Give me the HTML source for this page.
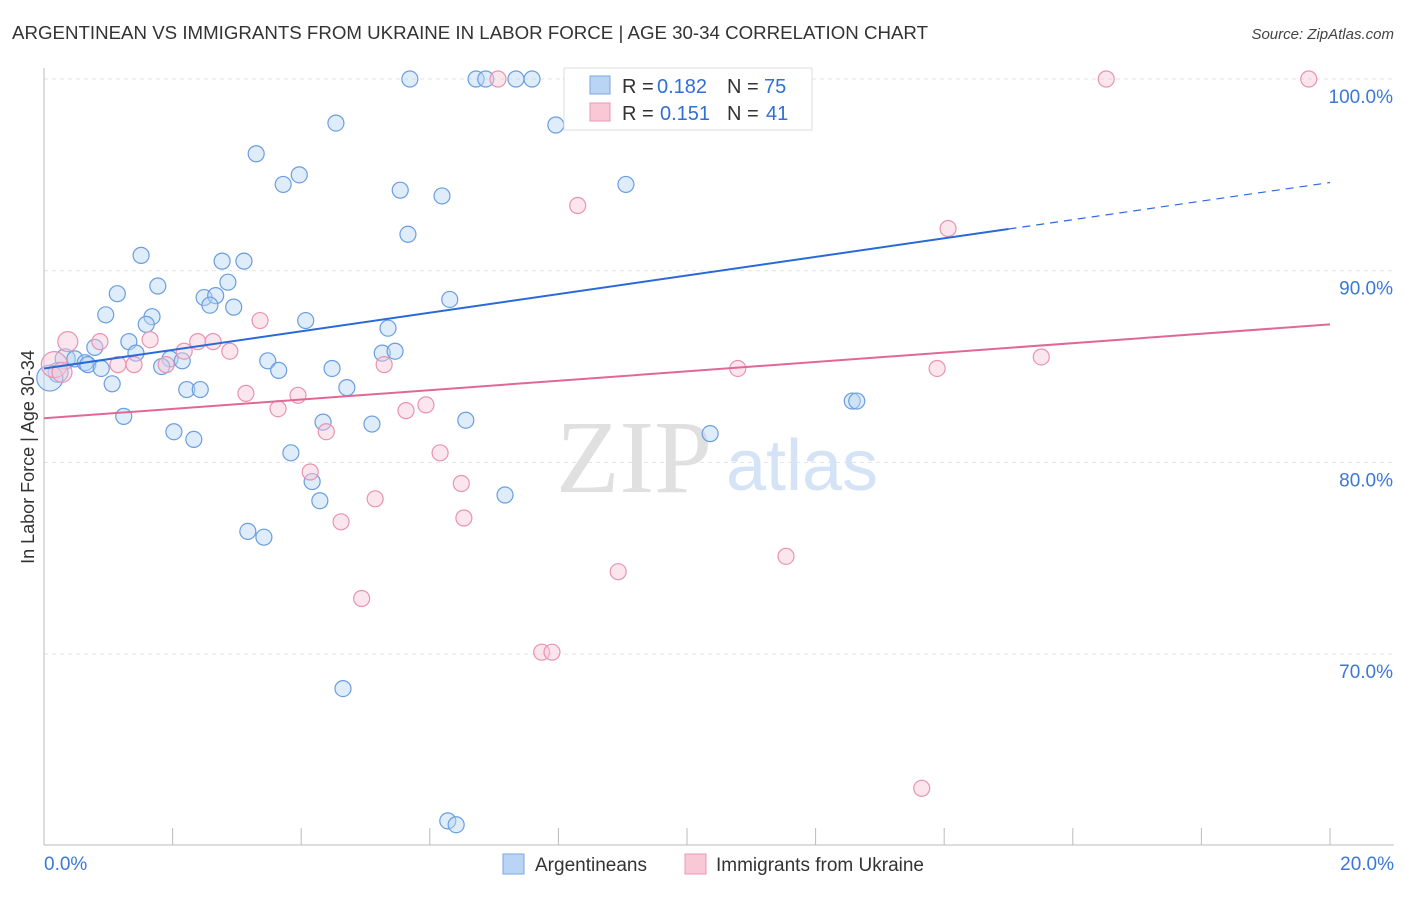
<!DOCTYPE html>
<html><head><meta charset="utf-8"><style>
html,body{margin:0;padding:0;background:#fff;}
body{width:1406px;height:892px;overflow:hidden;font-family:"Liberation Sans",sans-serif;}
</style></head><body>
<svg id="chart" width="1406" height="892" xmlns="http://www.w3.org/2000/svg" style="font-family:'Liberation Sans',sans-serif">
<text x="12" y="39" font-size="18" fill="#333" textLength="916" lengthAdjust="spacingAndGlyphs">ARGENTINEAN VS IMMIGRANTS FROM UKRAINE IN LABOR FORCE | AGE 30-34 CORRELATION CHART</text>
<text x="1394" y="39" font-size="15" fill="#444" font-style="italic" text-anchor="end">Source: ZipAtlas.com</text>
<text transform="translate(34,457) rotate(-90)" font-size="18" fill="#333" text-anchor="middle">In Labor Force | Age 30-34</text>
<g>
<text x="634" y="492" font-size="104" font-family="Liberation Serif,serif" fill="#e0e0e0" text-anchor="middle">ZIP</text>
<text x="802" y="490" font-size="72" fill="#d4e3f5" text-anchor="middle">atlas</text>
</g>
<g id="grid"></g><g id="axes"></g><g id="pts"></g><g id="lines"></g>
<g>
<rect x="564" y="68" width="248" height="62" fill="#fff" stroke="#ddd"/>
<rect x="590" y="76" width="20" height="18" fill="#b9d4f5" stroke="#7aa6e0"/>
<rect x="590" y="103" width="20" height="18" fill="#f9c8d7" stroke="#e99ab3"/>
<text x="622" y="93" font-size="20" fill="#333">R =</text>
<text x="657" y="93" font-size="20" fill="#2f6fd6">0.182</text>
<text x="727" y="93" font-size="20" fill="#333">N =</text>
<text x="764" y="93" font-size="20" fill="#2f6fd6">75</text>
<text x="622" y="120" font-size="20" fill="#333">R =</text>
<text x="660" y="120" font-size="20" fill="#2f6fd6">0.151</text>
<text x="727" y="120" font-size="20" fill="#333">N =</text>
<text x="766" y="120" font-size="20" fill="#2f6fd6">41</text>
</g>
<g>
<rect x="503" y="854" width="21" height="20" fill="#b9d4f5" stroke="#7aa6e0"/>
<text x="535" y="871" font-size="19" fill="#333">Argentineans</text>
<rect x="685" y="854" width="21" height="20" fill="#f9c8d7" stroke="#e99ab3"/>
<text x="716" y="871" font-size="19" fill="#333">Immigrants from Ukraine</text>
</g>
</svg>
<script>
const blueX=[5.69,6.72,6.87,7.34,7.59,8.21,9.70,4.54,7.96,3.30,3.97,3.72,9.05,5.54,6.19,5.66,1.51,2.77,3.11,1.77,2.86,1.14,2.49,2.67,2.58,2.95,6.31,0.96,1.68,1.59,4.07,5.35,1.32,0.79,1.43,5.26,5.46,0.33,0.48,0.64,0.68,1.96,2.15,3.48,1.83,0.89,0.22,0.09,3.65,4.48,1.06,2.22,2.43,4.71,1.24,4.34,5.10,6.56,2.02,2.33,10.36,12.57,12.64,3.84,4.17,4.29,7.17,3.17,3.42,4.65,6.28,6.41];
const blueY=[100,100,100,100,100,100,100,97.7,97.6,96.1,95.0,94.5,94.5,94.2,93.9,91.9,90.8,90.5,90.5,89.2,89.4,88.8,88.6,88.7,88.2,88.1,88.5,87.7,87.6,87.2,87.4,87.0,86.3,86.0,85.7,85.7,85.8,85.4,85.4,85.2,85.1,85.4,85.3,85.3,85.0,84.9,84.7,84.4,84.8,84.9,84.1,83.8,83.8,83.9,82.4,82.1,82.0,82.2,81.6,81.2,81.5,83.2,83.2,80.5,79.0,78.0,78.3,76.4,76.1,68.2,61.3,61.1];
const pinkX=[7.06,10.2,16.52,19.67,8.30,14.06,0.37,0.87,1.65,3.36,2.39,2.63,2.89,2.18,1.15,1.40,1.90,5.29,0.16,0.28,10.79,13.89,15.51,3.14,3.95,3.64,5.63,5.94,4.39,6.16,4.14,6.49,5.15,6.53,4.62,11.54,8.93,4.94,7.74,7.90,13.65];
const pinkY=[100,100,100,100,93.4,92.2,86.3,86.3,86.4,87.4,86.3,86.3,85.8,85.8,85.1,85.1,85.1,85.1,85.1,84.7,84.9,84.9,85.5,83.6,83.5,82.8,82.7,83.0,81.6,80.5,79.5,78.9,78.1,77.1,76.9,75.1,74.3,72.9,70.1,70.1,63.0];
const blueTrend=[84.9,94.6];
const pinkTrend=[82.3,87.2];
const yTicks=[100,90,80,70];
const yTickLabels=["100.0%","90.0%","80.0%","70.0%"];
const xTicks=[0,2,4,6,8,10,12,14,16,18,20];

const NS="http://www.w3.org/2000/svg";
const X=v=>44+v/20*1286;
const Y=v=>79+(100-v)*19.17;
function mk(p,t,a){const e=document.createElementNS(NS,t);for(const k in a)e.setAttribute(k,a[k]);p.appendChild(e);return e;}
const grid=document.getElementById('grid'),axes=document.getElementById('axes'),pts=document.getElementById('pts'),lines=document.getElementById('lines');
yTicks.forEach((v,i)=>{
 const l=mk(grid,'line',{x1:44,x2:1394,y1:Y(v),y2:Y(v),stroke:'#e2e2e2','stroke-dasharray':'4,4'});
 
 
 const t=mk(axes,'text',{x:1393,y:Y(v)+24,'font-size':19,fill:'#3a78d8','text-anchor':'end'});
 t.textContent=yTickLabels[i];
 
 
});
const ax=mk(axes,'line',{x1:44,x2:44,y1:68,y2:845,stroke:'#bbb'});


const bx=mk(axes,'line',{x1:44,x2:1394,y1:845,y2:845,stroke:'#bbb'});


xTicks.forEach(v=>{
 const l=mk(axes,'line',{x1:X(v),x2:X(v),y1:828,y2:845,stroke:'#bbb'});
 
 
});
const xl0=mk(axes,'text',{x:44,y:870,'font-size':19,fill:'#3a78d8'});xl0.textContent="0.0%";


const xl1=mk(axes,'text',{x:1394,y:870,'font-size':19,fill:'#3a78d8','text-anchor':'end'});xl1.textContent="20.0%";



function dots(xs,ys,fill,stroke,name){
 xs.forEach((x,i)=>{
  const big=x<0.4&&ys[i]<86.5&&ys[i]>84;
  const c=mk(pts,'circle',{cx:X(x),cy:Y(ys[i]),r:big?(x<0.2?13:10):8,fill:fill,'fill-opacity':0.45,stroke:stroke,'stroke-width':1.2});
  
  
 });
}
dots(blueX,blueY,'#b9d4f5','#6a9ee0','argentinean-point');
dots(pinkX,pinkY,'#f9c8d7','#e993b0','ukraine-point');

const bs=blueTrend[0],be=blueTrend[1],xs=15;
const bm=bs+(be-bs)*xs/20;
const l1=mk(lines,'line',{x1:X(0),y1:Y(bs),x2:X(xs),y2:Y(bm),stroke:'#2a6ad8','stroke-width':2});


const l2=mk(lines,'line',{x1:X(xs),y1:Y(bm),x2:X(20),y2:Y(be),stroke:'#2a6ad8','stroke-width':1.2,'stroke-dasharray':'8,6'});


const l3=mk(lines,'line',{x1:X(0),y1:Y(pinkTrend[0]),x2:X(20),y2:Y(pinkTrend[1]),stroke:'#e06896','stroke-width':2});


</script>
</body></html>
